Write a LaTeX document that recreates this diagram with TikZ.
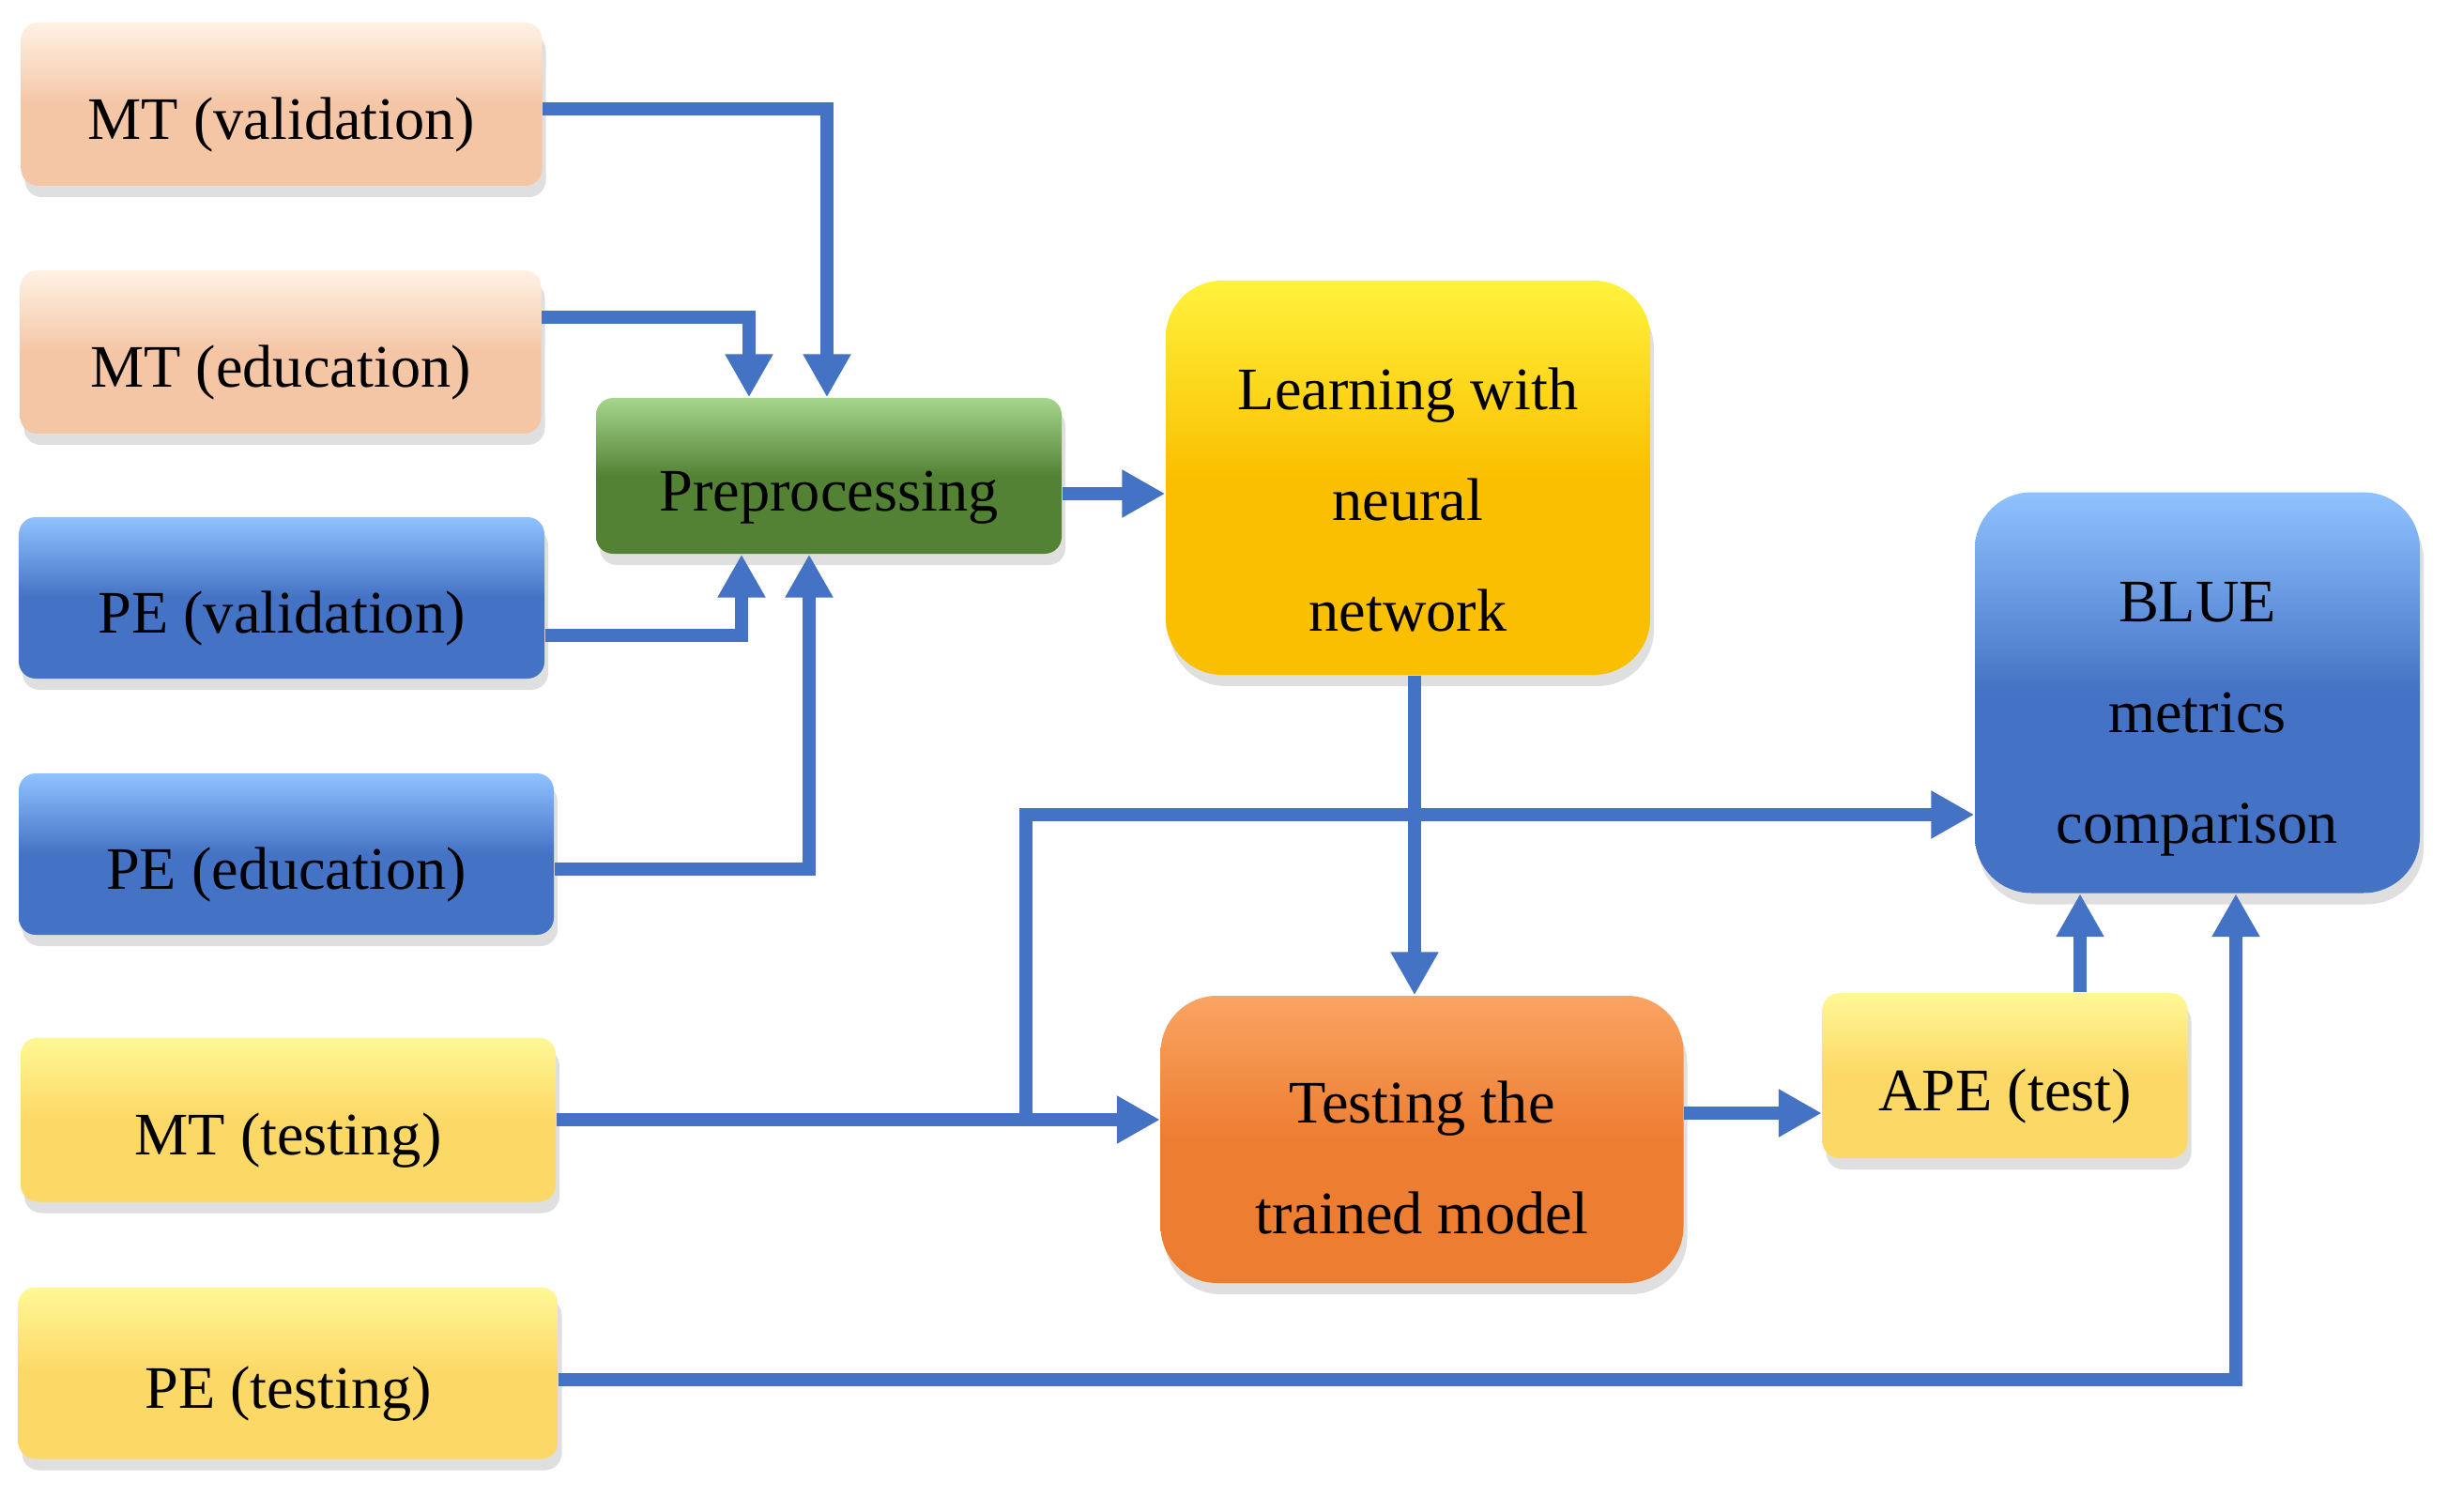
\documentclass[tikz,border=0pt]{standalone}
\usepackage{fontspec}
\setmainfont{Liberation Serif}
\usetikzlibrary{arrows.meta,positioning,calc,shadows}

\definecolor{peach}{HTML}{F4C6A6}
\definecolor{peachtop}{HTML}{FFF1E4}
\definecolor{peblue}{HTML}{4472C4}
\definecolor{pebluetop}{HTML}{90C2FF}
\definecolor{prepgreen}{HTML}{548235}
\definecolor{prepgreentop}{HTML}{A6D68C}
\definecolor{learngold}{HTML}{FAC000}
\definecolor{learngoldtop}{HTML}{FFF23C}
\definecolor{testorange}{HTML}{ED7D31}
\definecolor{testorangetop}{HTML}{FAA462}
\definecolor{testyellow}{HTML}{FCD866}
\definecolor{testyellowtop}{HTML}{FFF896}
\definecolor{arrowblue}{HTML}{4472C4}

\newcommand{\textlift}[1]{\rule{0pt}{#1}}

\begin{document}
\begin{tikzpicture}[
        font=\fontsize{18.3}{33.5}\selectfont,
        box/.style={rectangle, rounded corners=0.18cm, align=center, inner sep=0pt,
            execute at begin node={\textlift{25.5pt}},
            drop shadow={shadow xshift=0.04cm, shadow yshift=-0.12cm, opacity=0.25}},
        bigbox/.style={box, rounded corners=0.6cm, execute at begin node={\textlift{#1}}},
        mtbox/.style={box, top color=peachtop, bottom color=peach, middle color=peach, minimum width=5.55cm, minimum height=1.74cm},
        pebox/.style={box, top color=pebluetop, bottom color=peblue, middle color=peblue, minimum width=5.6cm, minimum height=1.72cm},
        testbox/.style={box, top color=testyellowtop, bottom color=testyellow, middle color=testyellow, minimum width=5.7cm, minimum height=1.75cm},
        arrow/.style={-{Triangle[width=0.48cm,length=0.46cm]}, line width=0.14cm, draw=arrowblue}
        ]

        \useasboundingbox (0,0) rectangle (26.08,-16.11);

        \node[mtbox] (mtval) at (3.0,-1.11) {MT (validation)};
        \node[mtbox] (mtedu) at (2.99,-3.75) {MT (education)};
        \node[pebox] (peval) at (3.0,-6.37) {PE (validation)};
        \node[pebox, minimum width=5.7cm] (peedu) at (3.05,-9.1) {PE (education)};
        \node[testbox] (mttest) at (3.07,-11.93) {MT (testing)};
        \node[testbox, minimum width=5.75cm, minimum height=1.83cm] (petest) at (3.07,-14.63) {PE (testing)};

        \node[box, top color=prepgreentop, bottom color=prepgreen, middle color=prepgreen, minimum width=4.96cm, minimum height=1.66cm] (prep) at (8.83,-5.07) {Preprocessing};
        \node[bigbox=93pt, top color=learngoldtop, bottom color=learngold, middle color=learngold, minimum width=5.16cm, minimum height=4.2cm] (learn) at (15.0,-5.09) {Learning with\\neural\\network};
        \node[bigbox=57.5pt, top color=testorangetop, bottom color=testorange, middle color=testorange, minimum width=5.57cm, minimum height=3.06cm] (testm) at (15.15,-12.14) {Testing the\\trained model};
        \node[testbox, minimum width=3.89cm, minimum height=1.76cm] (ape) at (21.36,-11.46) {APE (test)};
        \node[bigbox=95pt, top color=pebluetop, bottom color=peblue, middle color=peblue, minimum width=4.74cm, minimum height=4.27cm] (blue) at (23.41,-7.38) {BLUE\\metrics\\comparison};

        \draw[arrow] ([yshift=-0.05cm]mtval.east) -| ([xshift=-0.02cm]prep.north);
        \draw[arrow] ([yshift=0.37cm]mtedu.east) -| ([xshift=-0.85cm]prep.north);
        \draw[arrow] ([yshift=-0.4cm]peval.east) -| ([xshift=-0.93cm]prep.south);
        \draw[arrow] ([yshift=-0.16cm]peedu.east) -| ([xshift=-0.21cm]prep.south);
        \draw[arrow] ([yshift=-0.19cm]prep.east) -- ([yshift=-0.19cm]prep.east -| learn.west);
        \draw[arrow] ([xshift=0.07cm]learn.south) -- ([xshift=0.07cm]learn.south |- testm.north);
        \draw[arrow] (mttest.east) -- (mttest.east -| testm.west);
        \coordinate (split) at ($(mttest.east -| testm.west)+(-1.43,0)$);
        \draw[arrow] (split) |- ([yshift=-1.3cm]blue.west);
        \draw[arrow] ([yshift=0.28cm]testm.east) -- ([yshift=0.28cm]testm.east -| ape.west);
        \draw[arrow] ([xshift=0.8cm]ape.north) -- ([xshift=0.8cm]ape.north |- blue.south);
        \draw[arrow] ([yshift=-0.07cm]petest.east) -| ([xshift=0.41cm]blue.south);
    \end{tikzpicture}
\end{document}
